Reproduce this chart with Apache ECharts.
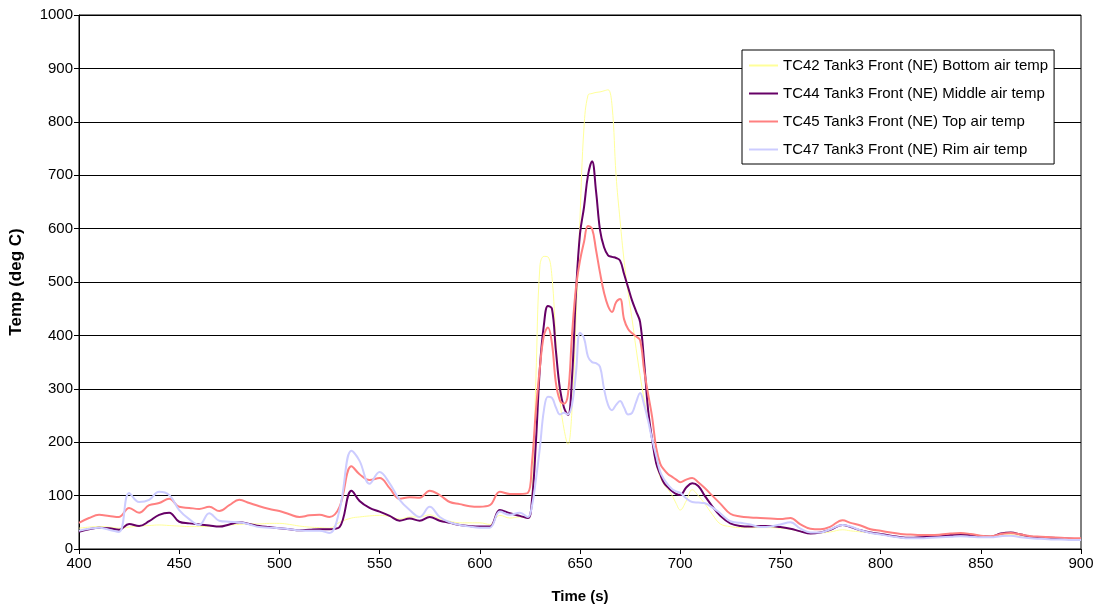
<!DOCTYPE html>
<html>
<head>
<meta charset="utf-8">
<title>Tank3 Front (NE) air temperatures</title>
<script src="https://cdn.jsdelivr.net/npm/echarts@6/dist/echarts.min.js"></script>
<style>
  html, body { margin: 0; padding: 0; background: #fff; }
  #chart { width: 1098px; height: 609px; }
</style>
</head>
<body>
<div id="chart"></div>
<script>
// time (s) sample points shared by all four thermocouples
var times = [
  400, 405, 410, 415, 420, 425, 430, 435, 440, 445,
  450, 455, 460, 465, 470, 475, 480, 485, 490, 495,
  500, 505, 510, 515, 520, 525, 530, 536, 540, 545,
  550, 555, 560, 565, 570, 575, 580, 585, 590, 595,
  600, 605, 610, 615, 620, 624, 626, 628, 630, 632,
  634, 636, 638, 640, 642, 644, 646, 648, 650, 652,
  654, 656, 658, 660, 662, 664, 666, 668, 670, 672,
  674, 676, 678, 680, 682, 684, 686, 688, 690, 692,
  694, 696, 698, 700, 703, 706, 709, 712, 716, 720,
  725, 730, 735, 740, 745, 750, 755, 760, 765, 770,
  775, 781, 785, 790, 795, 800, 805, 810, 815, 820,
  825, 830, 835, 840, 845, 850, 855, 860, 865, 870,
  875, 880, 885, 890, 895, 900
];

// TC42 bottom air temp (deg C)
var tc42 = [
  39, 41, 42, 41, 39, 41, 43, 44, 45, 44,
  43, 42, 42, 42, 43, 45, 46, 47, 47, 48,
  48, 46, 43, 41, 40, 39, 50, 58, 60, 62,
  63, 61, 56, 60, 60, 64, 56, 52, 49, 49,
  49, 46, 63, 58, 60, 58, 100, 320, 530, 548,
  547, 510, 390, 280, 225, 196, 260, 430, 620, 790,
  850, 853, 855, 856, 858, 860, 830, 700, 615, 540,
  480, 430, 375, 325, 280, 245, 206, 160, 135, 120,
  111, 100, 85, 73, 90, 111, 100, 86, 65, 47,
  42, 40, 40, 40, 40, 39, 37, 33, 31, 30,
  32, 36, 34, 32, 30, 27, 24, 21, 20, 21,
  22, 23, 24, 25, 25, 24, 24, 26, 27, 24,
  22, 21, 20, 19, 18, 18
];

// TC44 middle air temp
var tc44 = [
  32, 37, 40, 39, 36, 47, 43, 52, 64, 68,
  51, 48, 46, 44, 42, 46, 50, 47, 43, 41,
  39, 37, 35, 36, 37, 37, 41, 109, 90, 77,
  70, 62, 53, 57, 53, 60, 53, 49, 45, 43,
  42, 42, 73, 67, 62, 58, 90, 200, 340, 420,
  455, 450, 370, 300, 265, 251, 320, 480, 590, 640,
  700, 726, 670, 597, 565, 550, 547, 545, 540, 515,
  490, 465, 445, 425, 350, 260, 205, 161, 140, 123,
  115, 108, 103, 101, 115, 123, 118, 101, 80, 62,
  48, 43, 42, 43, 43, 41, 38, 33, 29, 31,
  36, 45, 41, 35, 31, 28, 25, 22, 21, 22,
  23, 24, 26, 27, 26, 24, 23, 29, 31, 27,
  23, 22, 21, 20, 19, 18
];

// TC45 top air temp
var tc45 = [
  49, 58, 64, 62, 60, 77, 68, 82, 86, 94,
  79, 77, 75, 79, 71, 82, 92, 86, 80, 75,
  71, 65, 60, 63, 64, 60, 79, 155, 140, 129,
  133, 114, 94, 97, 96, 109, 101, 88, 84, 80,
  79, 82, 107, 103, 103, 105, 160, 260, 340, 400,
  415, 385, 310, 278, 272, 290, 400, 490, 540, 575,
  605, 600, 560, 517, 480, 455, 444, 462, 468, 430,
  412, 404, 398, 391, 335, 290, 247, 190, 160, 148,
  140, 135, 130, 125, 130, 133, 125, 115, 100, 85,
  66, 61, 59, 58, 57, 56, 58, 46, 38, 37,
  42, 54, 49, 44, 37, 34, 31, 28, 27, 26,
  26, 27, 29, 30, 28, 25, 24, 28, 30, 27,
  24, 23, 22, 21, 20, 20
];

// TC47 rim air temp
var tc47 = [
  34, 38, 40, 36, 32, 105, 88, 92, 107, 101,
  73, 56, 45, 67, 53, 51, 50, 46, 41, 40,
  39, 37, 35, 34, 34, 30, 73, 184, 165, 122,
  144, 123, 92, 73, 60, 79, 60, 50, 45, 42,
  40, 40, 70, 64, 68, 60, 80, 130, 190, 260,
  285, 283, 265, 252, 255, 252, 270, 330, 405, 395,
  360, 350, 348, 341, 300, 270, 260, 270, 277, 265,
  252, 255, 275, 292, 270, 240, 205, 175, 145, 130,
  120, 112, 108, 105, 95, 88, 87, 86, 78, 67,
  52, 49, 46, 41, 42, 46, 50, 38, 31, 31,
  37, 45, 42, 35, 30, 27, 24, 21, 20, 20,
  21, 22, 23, 24, 23, 22, 22, 24, 25, 22,
  20, 19, 18, 18, 17, 17
];

var seriesNames = [
  'TC42 Tank3 Front (NE) Bottom air temp',
  'TC44 Tank3 Front (NE) Middle air temp',
  'TC45 Tank3 Front (NE) Top air temp',
  'TC47 Tank3 Front (NE) Rim air temp'
];

function pairs(values) {
  return times.map(function (t, i) { return [t, values[i]]; });
}

var FONT = '"Liberation Sans", Arial, sans-serif';

function line(name, values, color, width) {
  return {
    name: name,
    type: 'line',
    data: pairs(values),
    smooth: 0.4,
    symbol: 'none',
    lineStyle: { color: color, width: width },
    itemStyle: { color: color }
  };
}

var chart = echarts.init(document.getElementById('chart'));
chart.setOption({
  animation: false,
  backgroundColor: '#fff',
  grid: {
    left: 79, right: 17, top: 15, bottom: 60,
    show: true, borderColor: '#000', borderWidth: 1, backgroundColor: 'transparent'
  },
  legend: {
    orient: 'vertical',
    left: 742, top: 50,
    padding: [8, 6, 7, 6],
    itemWidth: 29, itemHeight: 14, itemGap: 13,
    itemStyle: { opacity: 0 },
    borderColor: '#000', borderWidth: 1, backgroundColor: '#fff',
    textStyle: { fontFamily: FONT, fontSize: 15, color: '#000' },
    data: seriesNames
  },
  xAxis: {
    type: 'value',
    min: 400, max: 900, interval: 50,
    name: 'Time (s)',
    nameLocation: 'middle', nameGap: 40,
    nameTextStyle: { fontFamily: FONT, fontSize: 15, fontWeight: 'bold', color: '#000' },
    axisLine: { lineStyle: { color: '#000', width: 1 } },
    axisTick: { inside: false, length: 5, lineStyle: { color: '#000' } },
    axisLabel: { fontFamily: FONT, fontSize: 15, color: '#000', margin: 7 },
    splitLine: { show: false }
  },
  yAxis: {
    type: 'value',
    min: 0, max: 1000, interval: 100,
    name: 'Temp (deg C)',
    nameLocation: 'middle', nameGap: 54,
    nameTextStyle: { fontFamily: FONT, fontSize: 17, fontWeight: 'bold', color: '#000' },
    axisLine: { show: true, lineStyle: { color: '#000', width: 1 } },
    axisTick: { show: true, inside: false, length: 5, lineStyle: { color: '#000' } },
    axisLabel: {
      fontFamily: FONT, fontSize: 15, color: '#000', margin: 6,
      formatter: function (v) { return String(v); }
    },
    splitLine: { show: true, lineStyle: { color: '#000', width: 1 } }
  },
  series: [
    line(seriesNames[0], tc42, '#FFFF99', 1),
    line(seriesNames[1], tc44, '#660066', 2),
    line(seriesNames[2], tc45, '#FF8080', 2),
    line(seriesNames[3], tc47, '#CCCCFF', 2)
  ]
});
</script>
</body>
</html>
